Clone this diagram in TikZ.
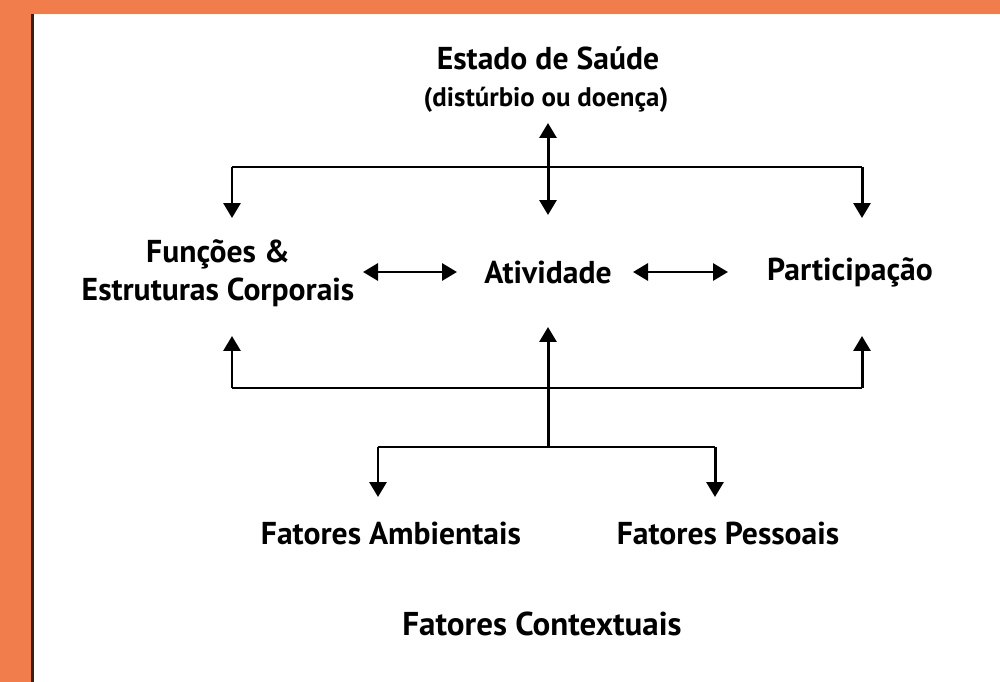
\documentclass[tikz,border=0pt]{standalone}
\usepackage{fontspec}
\setmainfont{PT Sans}
\usetikzlibrary{arrows.meta}
\definecolor{bgorange}{HTML}{F07D4B}
\begin{document}
\begin{tikzpicture}[x=0.02cm,y=-0.02cm,
  lbl/.style={font=\bfseries\fontsize{18}{21.6}\selectfont, inner sep=0pt, align=center},
  sublbl/.style={font=\bfseries\fontsize{15.3}{18}\selectfont, inner sep=0pt},
  ln/.style={line width=1.7pt},
  conn/.style={ln, -{Triangle[length=3mm,width=3.4mm]}},
  dbl/.style={ln, {Triangle[length=3mm,width=3.4mm]}-{Triangle[length=3mm,width=3.4mm]}}]
\useasboundingbox (0,0) rectangle (1000,682);
\fill[bgorange] (0,0) rectangle (1000,682);
\fill[white] (32,14) rectangle (1000,682);
\draw[line width=1.8pt, black!85] (32.5,14) -- (32.5,682);
% nodes
\node[lbl] (estado) at (548,58) {Estado de Saúde};
\node[sublbl] (dist) at (546,100) {(distúrbio ou doença)};
\node[lbl] (func) at (218,273) {Funções \&\\Estruturas Corporais};
\node[lbl] (ativ) at (548,272) {Atividade};
\node[lbl] (part) at (850,272) {Participação};
\node[lbl] (amb) at (391,533) {Fatores Ambientais};
\node[lbl] (pess) at (728,533) {Fatores Pessoais};
\node[lbl, font=\bfseries\fontsize{18.8}{22}\selectfont] (ctxt) at (542,624) {Fatores Contextuais};
% coordinates
\coordinate (t1) at (548,123);
\coordinate (t2) at (548,215);
\coordinate (hl) at (232,167);
\coordinate (hr) at (862,167);
\coordinate (dl) at (232,218);
\coordinate (dr) at (862,218);
\coordinate (a1) at (363,272);
\coordinate (a2) at (457,272);
\coordinate (b1) at (633,272);
\coordinate (b2) at (728,272);
\coordinate (ul) at (232,336);
\coordinate (uc) at (548,327);
\coordinate (ur) at (862,336);
\coordinate (ml) at (232,388);
\coordinate (mr) at (862,388);
\coordinate (lj) at (548,447);
\coordinate (ll) at (378,447);
\coordinate (lr) at (715,447);
\coordinate (fl) at (378,497);
\coordinate (fr) at (715,497);
% connectors
\draw[dbl] (t1) -- (t2);
\draw[ln] (hl) -- (hr);
\draw[conn] (hl) -- (dl);
\draw[conn] (hr) -- (dr);
\draw[dbl] (a1) -- (a2);
\draw[dbl] (b1) -- (b2);
\draw[conn] (ml) -- (ul);
\draw[conn] (mr) -- (ur);
\draw[ln] (ml) -- (mr);
\draw[conn] (lj) -- (uc);
\draw[ln] (ll) -- (lr);
\draw[conn] (ll) -- (fl);
\draw[conn] (lr) -- (fr);
\end{tikzpicture}
\end{document}
